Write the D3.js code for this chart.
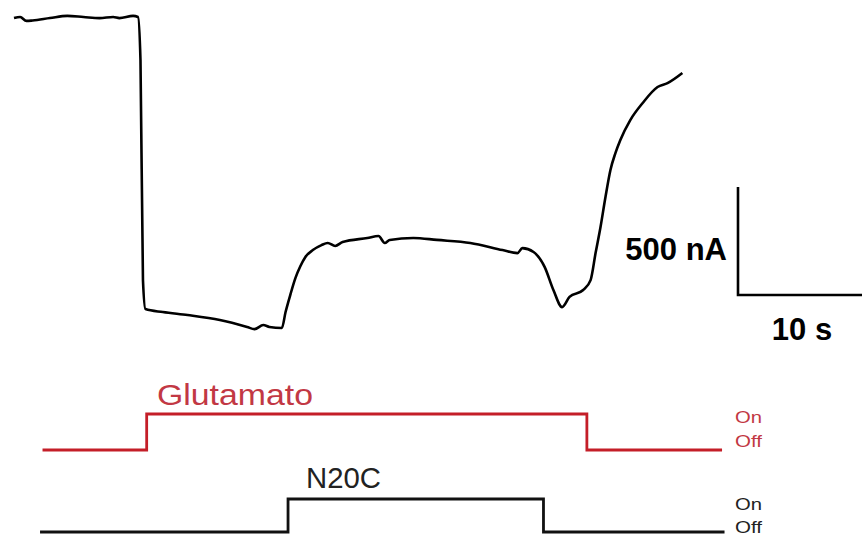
<!DOCTYPE html>
<html>
<head>
<meta charset="utf-8">
<title>Glutamato / N20C</title>
<script src="https://cdn.jsdelivr.net/npm/d3@7"></script>
<style>
  body { margin: 0; background: #fff; }
  svg text { font-family: "Liberation Sans", Arial, sans-serif; }
</style>
</head>
<body>
<div id="chart"></div>
<script>
// current trace: time (s) and current (nA, relative to initial level)
const traceTime = [0, 0.5, 1.0, 1.5, 2.9, 4.3, 5.6, 6.9, 8.0, 8.5, 9.6, 10.0,
  10.2, 10.4, 10.6, 12.0, 14.0, 16.6, 18.8, 19.4, 20.1, 20.6, 21.6,
  21.9, 22.3, 22.7, 23.1, 23.5, 24.1, 24.8, 25.3, 25.9, 26.5, 28.5, 29.4, 29.9, 30.3,
  32.2, 34.1, 36.8, 39.4, 40.6, 41.0, 41.9, 42.8, 43.5, 44.2, 44.8, 45.9,
  46.5, 46.9, 47.3, 47.7, 48.1, 48.5, 48.9, 49.7, 50.7, 51.9, 52.7, 53.9];
const traceCurrent = [-5, 0, -18, -16, -5, 5, 0, -5, 0, -5, 5, 0,
  -199, -1218, -1352, -1366, -1380, -1403, -1435, -1445, -1426, -1435, -1440,
  -1366, -1283, -1208, -1153, -1111, -1079, -1056, -1046, -1060, -1042, -1023, -1014, -1046, -1032,
  -1023, -1032, -1046, -1079, -1093, -1070, -1088, -1158, -1264, -1343, -1296, -1264,
  -1218, -1093, -972, -833, -708, -630, -569, -477, -398, -324, -306, -259];

// application protocols (0 = Off, 1 = On)
const glutTime = [2.3, 10.7, 46.2, 57.1];
const glutState = [0, 1, 0, 0];
const n20cTime = [2.1, 22.1, 42.7, 57.3];
const n20cState = [0, 1, 0, 0];

const stateLabels = ["On", "Off"];
const scaleBarTime = 10;      // s
const scaleBarCurrent = 500;  // nA

const width = 862, height = 538;
const red = "#c41e28";

const svg = d3.select("#chart").append("svg")
  .attr("width", width).attr("height", height);

const x = d3.scaleLinear().domain([0, 60]).range([14, 14 + 60 * 12.4]);
const y = d3.scaleLinear().domain([0, -1500]).range([17, 17 + 1500 * 0.216]);

const trace = d3.line()
  .x((d, i) => x(traceTime[i]))
  .y(d => y(d))
  .curve(d3.curveMonotoneX);

svg.append("path")
  .attr("d", trace(traceCurrent))
  .attr("fill", "none")
  .attr("stroke", "#000")
  .attr("stroke-width", 2.6)
  .attr("stroke-linejoin", "round");

// scale bar
const barX = 738, barY = 295;
const barW = x(scaleBarTime) - x(0);
const barH = y(-scaleBarCurrent) - y(0);
svg.append("path")
  .attr("d", `M${barX},${barY - barH}V${barY}H${barX + barW}`)
  .attr("fill", "none")
  .attr("stroke", "#000")
  .attr("stroke-width", 2.6);
svg.append("text")
  .attr("x", 727).attr("y", 260)
  .attr("text-anchor", "end")
  .attr("font-size", 31).attr("font-weight", "bold")
  .text(scaleBarCurrent + " nA");
svg.append("text")
  .attr("x", 802).attr("y", 340)
  .attr("text-anchor", "middle")
  .attr("font-size", 31).attr("font-weight", "bold")
  .text(scaleBarTime + " s");

// step protocols
function drawStep(times, states, off, on, color, textColor, name, nameX, nameY, nameLen, labelY) {
  const sy = d3.scaleLinear().domain([0, 1]).range([off, on]);
  const line = d3.line()
    .x((d, i) => x(times[i]))
    .y(d => sy(d))
    .curve(d3.curveStepAfter);
  svg.append("path")
    .attr("d", line(states))
    .attr("fill", "none")
    .attr("stroke", color)
    .attr("stroke-width", 2.8);
  svg.append("text")
    .attr("x", nameX).attr("y", nameY)
    .attr("font-size", 30)
    .attr("fill", textColor)
    .attr("textLength", nameLen)
    .attr("lengthAdjust", "spacingAndGlyphs")
    .text(name);
  svg.selectAll(null)
    .data(stateLabels)
    .enter().append("text")
    .attr("x", 735)
    .attr("y", (d, i) => labelY[i])
    .attr("font-size", 16)
    .attr("fill", textColor)
    .attr("textLength", 27)
    .attr("lengthAdjust", "spacingAndGlyphs")
    .text(d => d);
}

drawStep(glutTime, glutState, 450, 414, red, "#c23844", "Glutamato", 157, 405, 156, [423, 447]);
drawStep(n20cTime, n20cState, 532, 499, "#111", "#222", "N20C", 306, 488, 75, [510, 533]);
</script>
</body>
</html>
